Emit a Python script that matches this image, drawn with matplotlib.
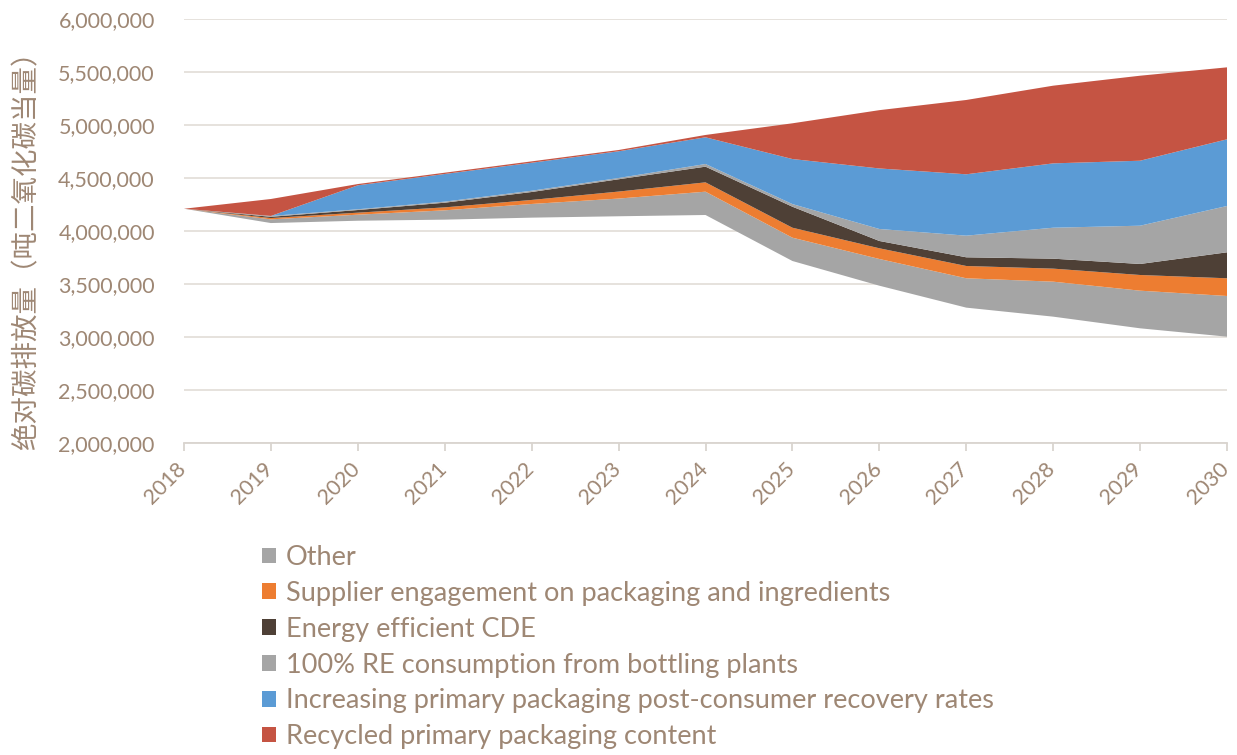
import matplotlib
matplotlib.use('Agg')
import matplotlib.pyplot as plt
import matplotlib.transforms as mtransforms
from matplotlib.patches import Patch
from matplotlib.ticker import FuncFormatter

plt.rcParams['font.family'] = ['Lato', 'Noto Sans CJK SC', 'DejaVu Sans']

years = [2018, 2019, 2020, 2021, 2022, 2023, 2024, 2025, 2026, 2027, 2028, 2029, 2030]

# remaining emissions (drawn invisible, sits under the wedges)
base = [4210000, 4075000, 4097000, 4107000, 4126000, 4139000, 4151000,
        3717000, 3484000, 3277000, 3192000, 3082000, 3003000]
other = [0, 35000, 57000, 88000, 129000, 167000, 220000,
         220000, 252000, 277000, 330000, 355000, 384000]
supplier = [0, 12000, 19000, 28000, 38000, 66000, 88000,
            94000, 101000, 116000, 123000, 148000, 167000]
energy = [0, 12000, 25000, 44000, 75000, 116000, 148000,
          198000, 69000, 82000, 94000, 104000, 245000]
re100 = [0, 8000, 7000, 10000, 12000, 12000, 25000,
         25000, 113000, 204000, 292000, 361000, 437000]
recovery = [0, 0, 226000, 261000, 264000, 252000, 252000,
            425000, 571000, 579000, 607000, 613000, 629000]
recycled = [0, 160000, 12000, 12000, 13000, 12000, 22000,
            337000, 550000, 701000, 733000, 802000, 679000]

labels = ['Other',
          'Supplier engagement on packaging and ingredients',
          'Energy efficient CDE',
          '100% RE consumption from bottling plants',
          'Increasing primary packaging post-consumer recovery rates',
          'Recycled primary packaging content']
colors = ['#A5A5A5', '#ED7D31', '#4E4036', '#A5A5A5', '#5B9BD5', '#C55443']

txt = '#9E8774'
grid = '#E4DFDA'

fig = plt.figure(figsize=(12.37, 7.55), dpi=100)
ax = fig.add_axes([184 / 1237, 1 - 443 / 755, 1043 / 1237, 424 / 755])

ax.stackplot(years, base, other, supplier, energy, re100, recovery, recycled,
             colors=['none'] + colors, linewidth=0)

ax.set_xlim(2018, 2030)
ax.set_ylim(2000000, 6000000)
ax.set_yticks(range(2000000, 6000001, 500000))
ax.yaxis.set_major_formatter(FuncFormatter(lambda v, p: f'{int(v):,}'))
ax.set_xticks(years)
ax.set_xticklabels([str(y) for y in years], rotation=45, ha='right',
                   rotation_mode='anchor')

ax.grid(axis='y', color=grid, linewidth=1.3)
ax.set_axisbelow(True)
for s in ['top', 'right', 'left']:
    ax.spines[s].set_visible(False)
ax.spines['bottom'].set_color('#D9D4CF')
ax.spines['bottom'].set_linewidth(1.3)
ax.tick_params(axis='y', length=0, pad=21, labelsize=15.5, labelcolor=txt)
ax.tick_params(axis='x', length=6, width=1.3, color='#D9D4CF', pad=5,
               labelsize=15.5, labelcolor=txt)

# pull the slanted year labels left so the last one stays inside
shift = mtransforms.ScaledTranslation(-0.08, 0, fig.dpi_scale_trans)
for lab in ax.get_xticklabels():
    lab.set_transform(lab.get_transform() + shift)

ax.set_ylabel('绝对碳排放量（吨二氧化碳当量）', fontsize=19.8, color=txt,
              family=['Noto Sans CJK SC', 'DejaVu Sans'], fontweight='light')
ax.yaxis.set_label_coords(-0.138, 0.47)

handles = [Patch(facecolor=c, edgecolor='none') for c in colors]
fig.legend(handles, labels, loc='upper left', bbox_to_anchor=(262 / 1237, 1 - 545 / 755),
           frameon=False, fontsize=19.5, labelcolor=txt, handlelength=0.52,
           handleheight=0.52, handletextpad=0.37, labelspacing=0.40,
           borderaxespad=0, borderpad=0)

fig.savefig('out.png', dpi=100, facecolor='white')
